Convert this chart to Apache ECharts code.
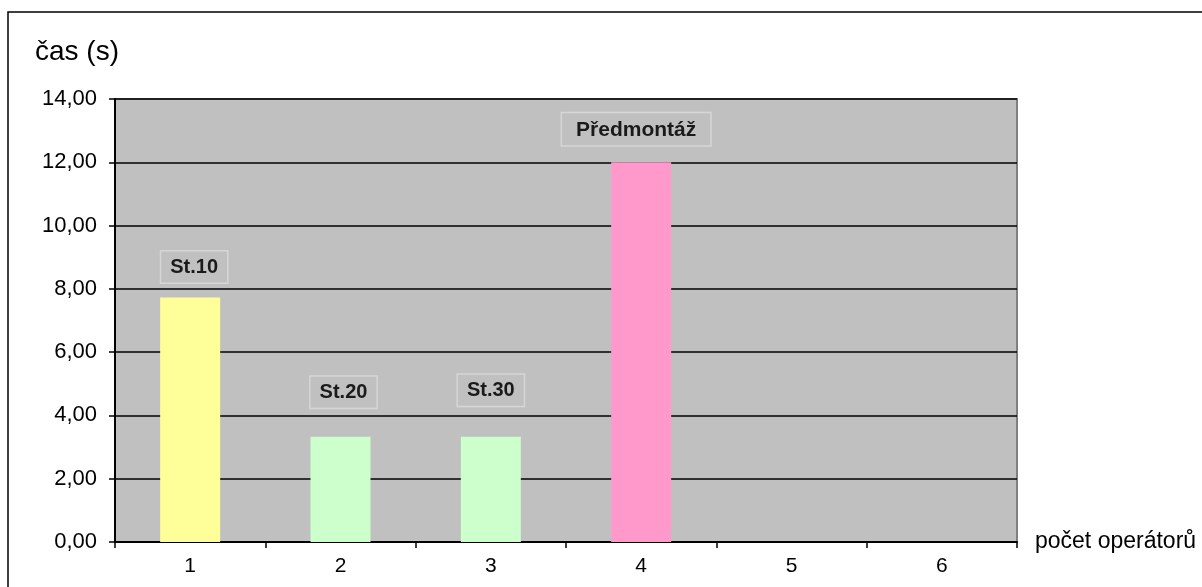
<!DOCTYPE html>
<html>
<head>
<meta charset="utf-8">
<script src="https://cdn.jsdelivr.net/npm/echarts@6/dist/echarts.min.js"></script>
<style>
  html, body { margin: 0; padding: 0; background: #fff; }
  #chart { width: 1202px; height: 587px; }
</style>
</head>
<body>
<div id="chart"></div>
<script>
// data
var categories = ['1', '2', '3', '4', '5', '6'];
var values = [7.73, 3.33, 3.33, 12.0, null, null];
var stations = ['St.10', 'St.20', 'St.30', 'Předmontáž', '', ''];
var barColors = ['#FFFF99', '#CCFFCC', '#CCFFCC', '#FF99CC', '#C0C0C0', '#C0C0C0'];
var labelGaps = [15, 29, 31, 17, 0, 0];
var labelShift = [4, 3, 0, -5, 0, 0];

var font = '"Liberation Sans", Arial, sans-serif';

var barData = values.map(function (v, i) {
    var item = {
        value: v,
        itemStyle: { color: barColors[i] },
        label: { distance: labelGaps[i], offset: [labelShift[i], 0] }
    };
    if (i === 3) {
        item.label.fontSize = 21;
        item.label.padding = [6, 14, 5, 14];
    }
    return item;
});

var chart = echarts.init(document.getElementById('chart'));
chart.setOption({
    animation: false,
    backgroundColor: '#fff',
    textStyle: { fontFamily: font },
    graphic: [{
        type: 'rect',
        shape: { x: 8, y: 12, width: 1210, height: 600 },
        style: { fill: 'none', stroke: '#000', lineWidth: 1.5 },
        silent: true
    }, {
        type: 'text',
        x: 35, y: 52,
        style: {
            text: 'čas (s)', fontSize: 28, fontFamily: font, fill: '#000',
            verticalAlign: 'middle'
        }
    }],
    grid: {
        left: 115, top: 99, width: 902, height: 443,
        show: true,
        backgroundColor: '#C0C0C0',
        borderColor: '#808080',
        borderWidth: 2
    },
    xAxis: {
        type: 'category',
        data: categories,
        name: 'počet operátorů',
        nameLocation: 'end',
        nameGap: 18,
        nameTextStyle: { fontSize: 23, color: '#000', fontFamily: font, verticalAlign: 'middle' },
        axisLine: { lineStyle: { color: '#000', width: 2 } },
        axisTick: { show: true, length: 6, interval: 0, lineStyle: { color: '#000', width: 1.5 } },
        axisLabel: { fontSize: 21, color: '#000', margin: 14 }
    },
    yAxis: {
        type: 'value',
        min: 0, max: 14, interval: 2,
        axisLine: { show: true, lineStyle: { color: '#000', width: 2 } },
        axisTick: { show: true, length: 6, lineStyle: { color: '#000', width: 1.5 } },
        axisLabel: {
            fontSize: 22, color: '#000', margin: 18,
            formatter: function (v) { return v.toFixed(2).replace('.', ','); }
        },
        splitLine: { show: true, lineStyle: { color: '#000', width: 1.5 } }
    },
    series: [{
        type: 'bar',
        data: barData,
        barWidth: 60,
        label: {
            show: true,
            position: 'top',
            formatter: function (p) { return stations[p.dataIndex]; },
            fontSize: 20,
            fontWeight: 'bold',
            color: '#1a1a1a',
            fontFamily: font,
            backgroundColor: '#C0C0C0',
            borderColor: '#D6D6D6',
            borderWidth: 1.5,
            padding: [6, 9, 5, 9]
        }
    }]
});
</script>
</body>
</html>
